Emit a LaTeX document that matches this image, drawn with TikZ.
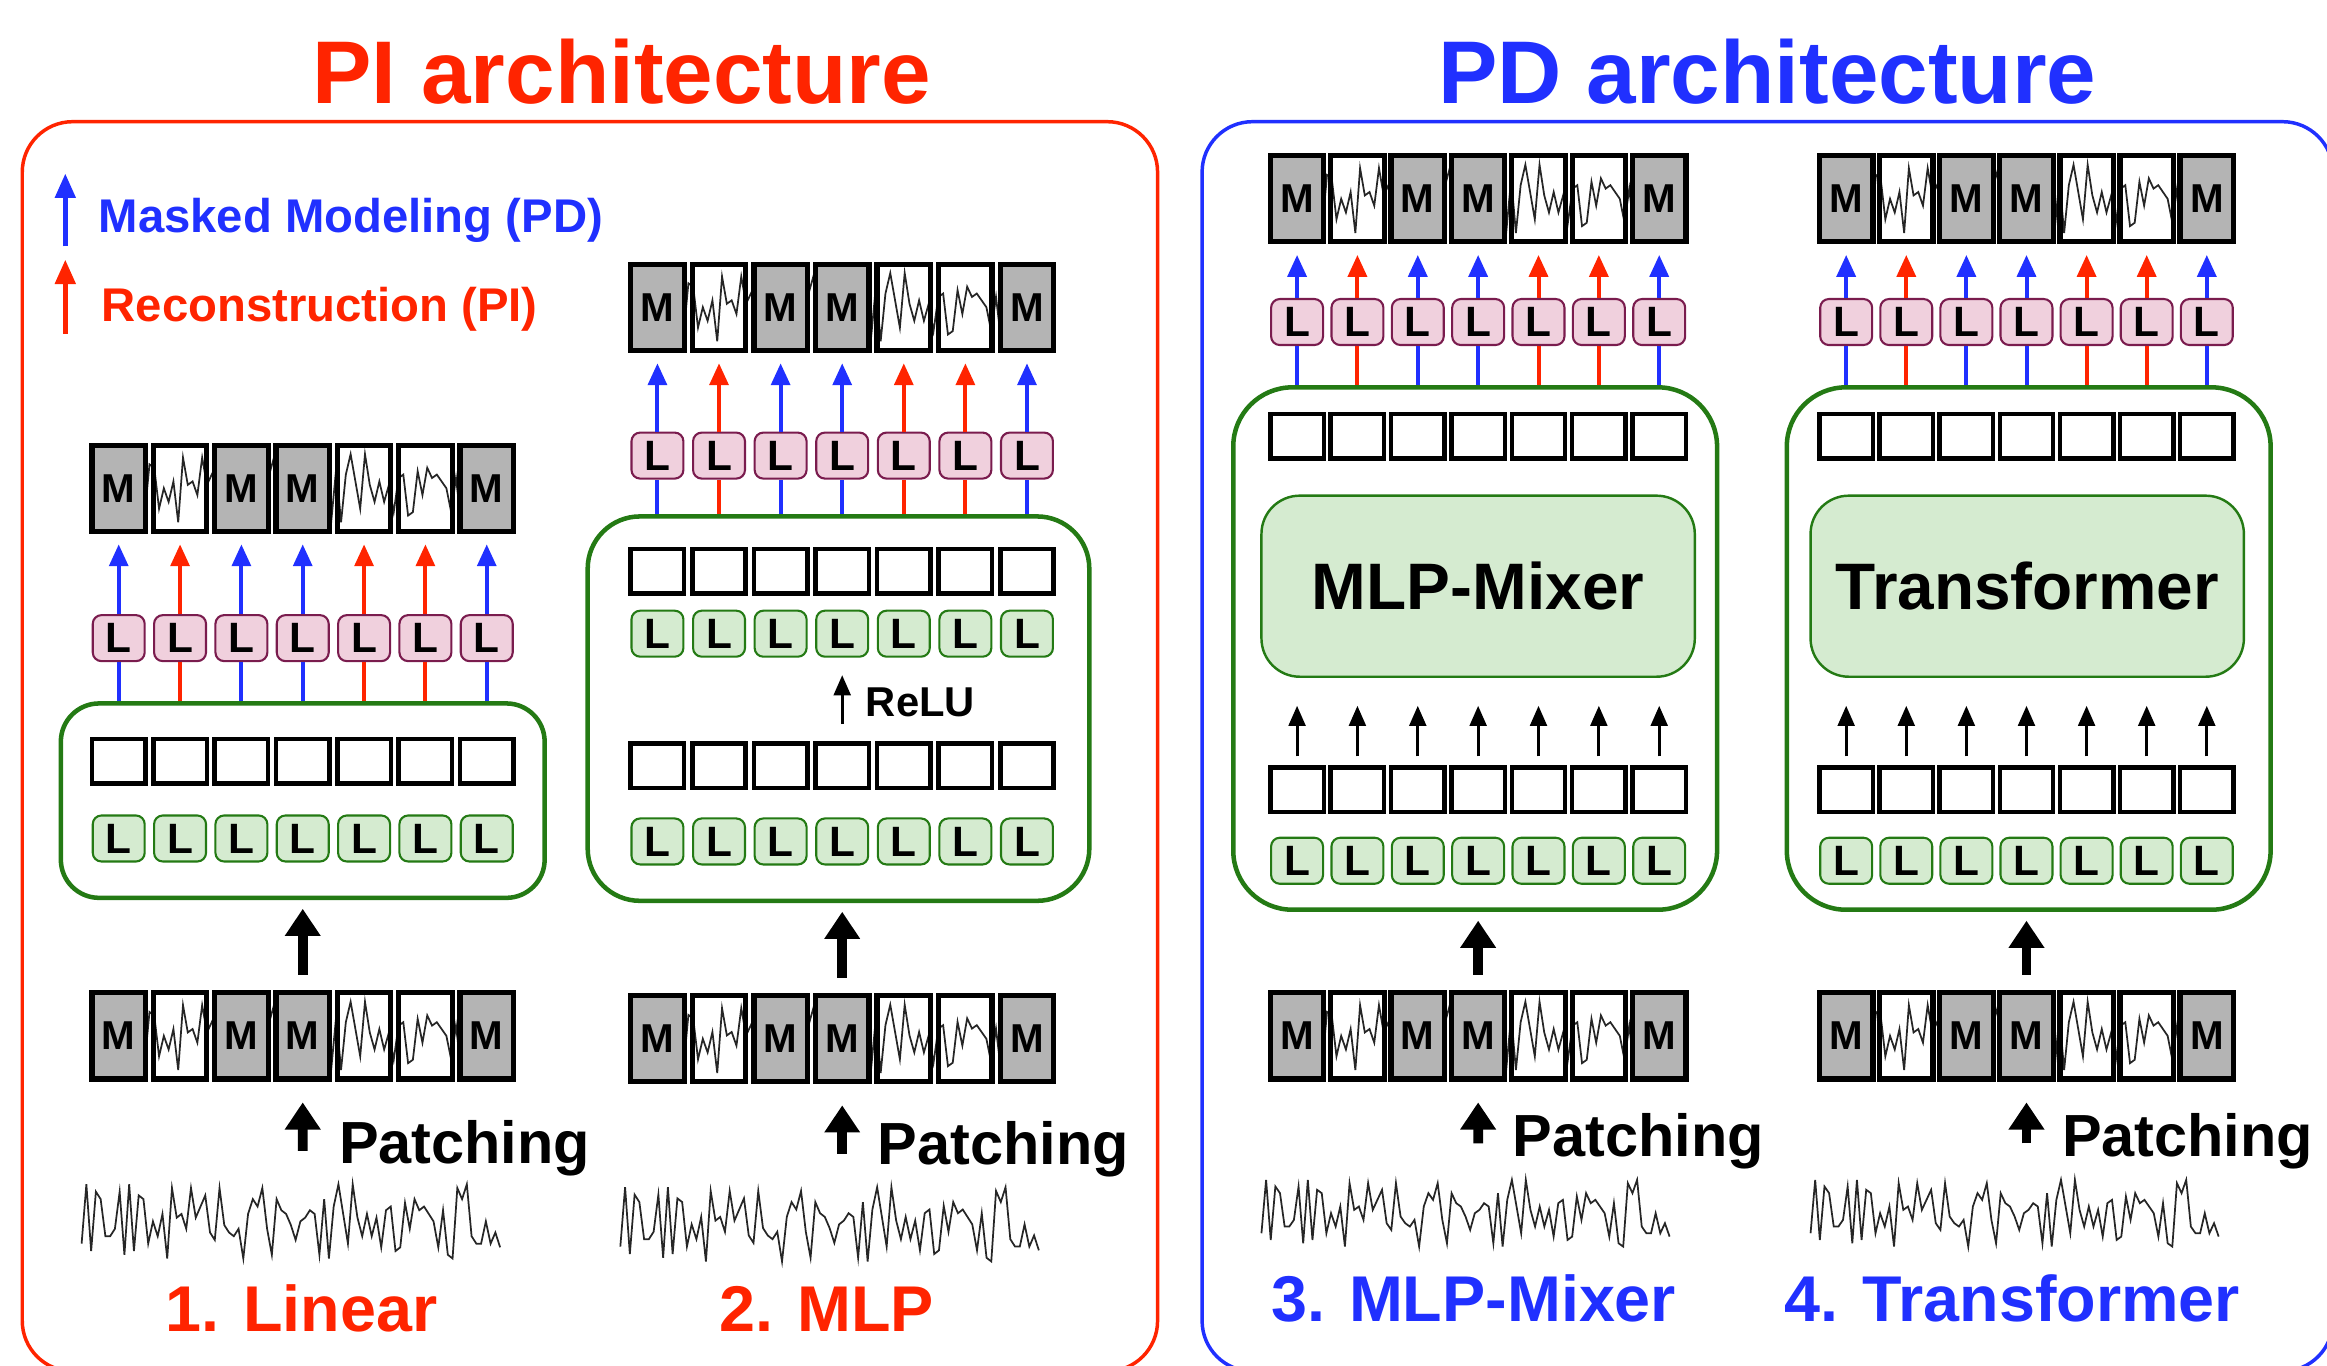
\documentclass[tikz,border=0pt]{standalone}
\usepackage{fontspec}
\setmainfont{Liberation Sans}
\usetikzlibrary{arrows.meta}

\definecolor{pired}{RGB}{255,36,0}
\definecolor{pdblue}{RGB}{32,48,255}
\definecolor{boxgreen}{RGB}{36,122,20}
\definecolor{lgreen}{RGB}{213,235,208}
\definecolor{lpink}{RGB}{240,208,221}
\definecolor{dpink}{RGB}{122,28,78}
\definecolor{mgrey}{RGB}{180,180,180}

% one drawing unit
\newcommand\pxu{0.015cm}
\newcommand\bfs[1]{\fontsize{#1}{#1}\selectfont\bfseries}

% normalised samples of the example time series (first sample is 0.2)
\newcommand\sigvals{1.0,0.1,0.9,0.8,0.3,0.3,0.4,0.9,0.05,1.0,0.1,0.85,0.8,0.2,0.5,0.3,0.6,0.0,0.95,0.55,0.6,0.4,0.95,0.55,0.7,0.85,0.35,0.25,0.95,0.45,0.35,0.3,0.4,0.0,0.6,0.8,0.7,0.95,0.4,0.05,0.8,0.65,0.6,0.45,0.25,0.5,0.55,0.65,0.6,0.05,0.8,0.0,0.7,1.0,0.6,0.2,1.0,0.55,0.3,0.6,0.3,0.55,0.15,0.65,0.7,0.1,0.15,0.75,0.4,0.8,0.65,0.7,0.6,0.5,0.15,0.65,0.05,0.0,0.95,0.8,1.0,0.3,0.2,0.2,0.5,0.2,0.35,0.15}
% #1 left x, #2 width, #3 top y, #4 height
\newcommand\sigline[4]{%
  \draw[sig] ({#1},{#3+0.8*(#4)}) \foreach \sv [count=\si] in \sigvals {-- ({#1+(\si/88)*(#2)},{#3+(1-\sv)*(#4)})};}

% patch row: masked (M) and visible patches; #1 prefix, #2 first centre x, #3 pitch, #4 centre y
\newcommand\mrow[4]{%
  \sigline{#2-18}{6*(#3)+36}{#4-23}{46}
  \foreach \k in {1,3,4,7} \node[mcell] (#1\k) at ({#2+(\k-1)*(#3)},#4) {M};
  \foreach \k in {2,5,6} \node[wcell] (#1\k) at ({#2+(\k-1)*(#3)},#4) {};}

% row of seven equal nodes; #5 style, #6 text
\newcommand\nrow[6]{%
  \foreach \k in {1,...,7} \node[#5] (#1\k) at ({#2+(\k-1)*(#3)},#4) {#6};}

% coloured heads: blue for masked patches, red for visible ones
\newcommand\colarrows[3]{%
  \foreach \k/\c in {1/pdblue,2/pired,3/pdblue,4/pdblue,5/pired,6/pired,7/pdblue} {
    \draw[cline, color=\c] (#3.north -| #1\k.south) -- (#1\k.south);
    \draw[carrow, color=\c] (#1\k.north) -- (#2\k.south);
  }}

\tikzset{
  sig/.style={draw=black!85, line width=0.5pt},
  mcell/.style={draw=black, line width=1.5pt, fill=mgrey, minimum width=36*\pxu, minimum height=58*\pxu, inner sep=0pt, font=\bfs{11.6}},
  wcell/.style={draw=black, line width=1.5pt, minimum width=36*\pxu, minimum height=58*\pxu, inner sep=0pt},
  sq/.style={draw=black, line width=1.3pt, fill=white, minimum width=36*\pxu, minimum height=30*\pxu, inner sep=0pt},
  lpk/.style={draw=dpink, line width=0.6pt, fill=lpink, rounded corners=2.5pt, minimum width=35*\pxu, minimum height=31*\pxu, inner sep=0pt, font=\bfs{12.2}},
  lgr/.style={lpk, draw=boxgreen, fill=lgreen},
  container/.style={draw=boxgreen, line width=1.3pt, inner sep=0pt},
  core/.style={draw=boxgreen, line width=0.7pt, fill=lgreen, rounded corners=11pt, inner sep=0pt, font=\bfs{18.9}},
  frame/.style={line width=1pt, rounded corners=14.5pt, inner sep=0pt, minimum height=842*\pxu},
  title/.style={anchor=base, inner sep=0pt, font=\bfs{25.6}},
  lab/.style={anchor=base, inner sep=0pt, font=\bfs{18.6}},
  patch/.style={anchor=base west, inner sep=0pt, font=\bfs{17.1}},
  legtext/.style={anchor=base west, inner sep=0pt, font=\bfs{13.6}},
  carrow/.style={line width=1.15pt, -{Triangle[width=5.4pt,length=6.3pt]}, shorten >=3pt},
  cline/.style={line width=1.15pt},
  bigarrow/.style={line width=2.8pt, -{Triangle[width=9.8pt,length=7.8pt]}, shorten <=4.5pt, shorten >=2.5pt},
  sarrow/.style={line width=0.9pt, -{Triangle[width=4.8pt,length=5.8pt]}},
  legarrow/.style={line width=1.3pt, -{Triangle[width=5.8pt,length=7pt]}},
}

\begin{document}
\begin{tikzpicture}[x=\pxu, y=-\pxu]
\useasboundingbox (0,0) rectangle (1568,920);

% ---------- frames and titles
\node[frame, draw=pired, minimum width=765*\pxu] (piframe) at (397.5,503) {};
\node[frame, draw=pdblue, minimum width=762*\pxu] (pdframe) at (1191,503) {};
\node[title, text=pired] (pititle) at (419,69.5) {PI architecture};
\node[title, text=pdblue] (pdtitle) at (1191,69.5) {PD architecture};

% ---------- legend
\coordinate (legb0) at (44,166);
\coordinate (legb1) at (44,117);
\draw[legarrow, color=pdblue] (legb0) -- (legb1);
\node[legtext, text=pdblue] (legbtxt) at (66,156.5) {Masked Modeling (PD)};
\coordinate (legr0) at (44,225);
\coordinate (legr1) at (44,175);
\draw[legarrow, color=pired] (legr0) -- (legr1);
\node[legtext, text=pired] (legrtxt) at (68,216.5) {Reconstruction (PI)};

% ---------- 1. Linear
\mrow{s1top}{80}{41.33}{329}
\nrow{s1pl}{80}{41.33}{430}{lpk}{L}
\node[container, rounded corners=11pt, minimum width=326*\pxu, minimum height=131*\pxu] (s1box) at (204,539.5) {};
\nrow{s1sq}{80}{41.33}{513}{sq}{}
\nrow{s1gl}{80}{41.33}{565}{lgr}{L}
\colarrows{s1pl}{s1top}{s1box}
\mrow{s1bot}{80}{41.33}{698}
\draw[bigarrow] (s1bot4.north) -- (s1bot4.north |- s1box.south);
\coordinate (s1pat) at (204,786);
\draw[bigarrow, shorten >=6pt] (s1pat) -- (s1bot4.south);
\node[patch] (s1ptxt) at (228,784) {Patching};
\sigline{55}{282}{798}{50}
\node[lab, text=pired] (s1lab) at (203,897.5) {1. Linear};

% ---------- 2. MLP
\mrow{s2top}{443}{41.5}{207}
\nrow{s2pl}{443}{41.5}{307}{lpk}{L}
\node[container, rounded corners=15pt, minimum width=338*\pxu, minimum height=259*\pxu] (s2box) at (565,477.5) {};
\nrow{s2sqa}{443}{41.5}{385}{sq}{}
\nrow{s2gla}{443}{41.5}{427}{lgr}{L}
\coordinate (s2relu) at (567.5,488);
\draw[sarrow, shorten >=5pt] (s2relu) -- (s2gla4.south);
\node[anchor=base west, inner sep=0pt, font=\bfs{12}] (s2relutxt) at (583,483) {ReLU};
\nrow{s2sqb}{443}{41.5}{516}{sq}{}
\nrow{s2glb}{443}{41.5}{567}{lgr}{L}
\colarrows{s2pl}{s2top}{s2box}
\mrow{s2bot}{443}{41.5}{700}
\draw[bigarrow] (s2bot4.north) -- (s2bot4.north |- s2box.south);
\coordinate (s2pat) at (567.5,788);
\draw[bigarrow, shorten >=6pt] (s2pat) -- (s2bot4.south);
\node[patch] (s2ptxt) at (591,785) {Patching};
\sigline{418}{282}{800}{50}
\node[lab, text=pired] (s2lab) at (557,897.5) {2. MLP};

% ---------- 3. MLP-Mixer
\mrow{s3top}{874}{40.67}{134}
\nrow{s3pl}{874}{40.67}{217}{lpk}{L}
\node[container, rounded corners=17pt, minimum width=326*\pxu, minimum height=352*\pxu] (s3box) at (994,437) {};
\nrow{s3sqa}{874}{40.67}{294}{sq}{}
\node[core, minimum width=292*\pxu, minimum height=122*\pxu] (s3core) at (996,395) {MLP-Mixer};
\nrow{s3sqb}{874}{40.67}{532}{sq}{}
\nrow{s3gl}{874}{40.67}{580}{lgr}{L}
\foreach \k in {1,...,7}
  \draw[sarrow, shorten <=2.5pt, shorten >=8pt] (s3sqb\k.north) -- (s3sqb\k.north |- s3core.south);
\colarrows{s3pl}{s3top}{s3box}
\mrow{s3bot}{874}{40.67}{698}
\draw[bigarrow] (s3bot4.north) -- (s3bot4.north |- s3box.south);
\coordinate (s3pat) at (996,781);
\draw[bigarrow, shorten >=6pt] (s3pat) -- (s3bot4.south);
\node[patch] (s3ptxt) at (1019,779) {Patching};
\sigline{850}{275}{795}{45}
\node[lab, text=pdblue] (s3lab) at (993,890.5) {3. MLP-Mixer};

% ---------- 4. Transformer
\mrow{s4top}{1244}{40.5}{134}
\nrow{s4pl}{1244}{40.5}{217}{lpk}{L}
\node[container, rounded corners=17pt, minimum width=326*\pxu, minimum height=352*\pxu] (s4box) at (1367,437) {};
\nrow{s4sqa}{1244}{40.5}{294}{sq}{}
\node[core, minimum width=292*\pxu, minimum height=122*\pxu] (s4core) at (1366,395) {Transformer};
\nrow{s4sqb}{1244}{40.5}{532}{sq}{}
\nrow{s4gl}{1244}{40.5}{580}{lgr}{L}
\foreach \k in {1,...,7}
  \draw[sarrow, shorten <=2.5pt, shorten >=8pt] (s4sqb\k.north) -- (s4sqb\k.north |- s4core.south);
\colarrows{s4pl}{s4top}{s4box}
\mrow{s4bot}{1244}{40.5}{698}
\draw[bigarrow] (s4bot4.north) -- (s4bot4.north |- s4box.south);
\coordinate (s4pat) at (1365.5,781);
\draw[bigarrow, shorten >=6pt] (s4pat) -- (s4bot4.south);
\node[patch] (s4ptxt) at (1389,779) {Patching};
\sigline{1220}{275}{795}{45}
\node[lab, text=pdblue] (s4lab) at (1356,890.5) {4. Transformer};
\end{tikzpicture}
\end{document}
